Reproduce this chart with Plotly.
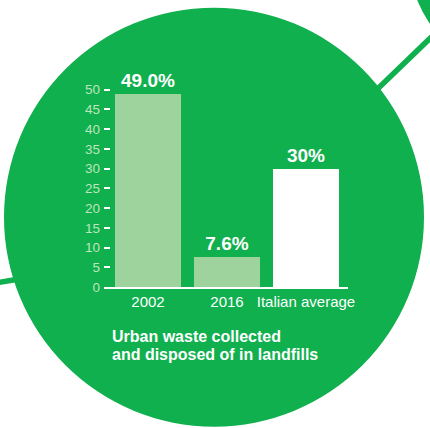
import plotly.graph_objects as go

# Share of urban waste sent to landfill (%)
categories = ["2002", "2016", "Italian average"]
values = [49.0, 7.6, 30]
value_labels = ["49.0%", "7.6%", "30%"]
y_ticks = [0, 5, 10, 15, 20, 25, 30, 35, 40, 45, 50]
caption_lines = ["Urban waste collected", "and disposed of in landfills"]

GREEN = "#0fb04d"
LIGHT = "#9fd39d"
TICK_TEXT = "#bde6bd"
FONT = "Liberation Sans, Arial, Helvetica, sans-serif"

W, H = 430, 428
ML, MR, MT, MB = 104, 82, 69.5, 141
PW, PH = W - ML - MR, H - MT - MB


def px(x):
    """Page pixel column -> paper x."""
    return (x - ML) / PW


def py(y):
    """Page pixel row -> paper y."""
    return (H - MB - y) / PH


bar_colors = [LIGHT, LIGHT, "#ffffff"]

fig = go.Figure(
    go.Bar(
        x=categories,
        y=values,
        text=value_labels,
        textposition="outside",
        textfont=dict(family=FONT, size=19, color="white", weight="bold"),
        marker=dict(color=bar_colors, line=dict(width=0)),
        width=0.835,
        cliponaxis=False,
        hoverinfo="skip",
    )
)

shapes = [
    # big green disc behind the chart
    dict(type="circle", xref="paper", yref="paper", layer="below",
         x0=px(4), x1=px(424), y0=py(427), y1=py(7),
         fillcolor=GREEN, line=dict(width=0)),
    # partial disc in the top-right corner
    dict(type="circle", xref="paper", yref="paper", layer="below",
         x0=px(410), x1=px(630), y0=py(70), y1=py(-150),
         fillcolor=GREEN, line=dict(width=0)),
    # connector lines
    dict(type="line", xref="paper", yref="paper", layer="below",
         x0=px(378), y0=py(88), x1=px(434), y1=py(34),
         line=dict(color=GREEN, width=5.5)),
    dict(type="line", xref="paper", yref="paper", layer="below",
         x0=px(-4), y0=py(283), x1=px(22), y1=py(278.5),
         line=dict(color=GREEN, width=5.5)),
]

# two-line caption under the bars, one annotation per line
caption_rows = [337, 355]
annotations = [
    dict(
        text=line,
        xref="paper", yref="paper",
        x=px(110), y=py(row),
        xanchor="left", yanchor="middle",
        align="left",
        showarrow=False,
        font=dict(family=FONT, size=16, color="white", weight="bold"),
    )
    for line, row in zip(caption_lines, caption_rows)
]

fig.update_layout(
    width=W,
    height=H,
    autosize=False,
    margin=dict(l=ML, r=MR, t=MT, b=MB, pad=0),
    paper_bgcolor="white",
    plot_bgcolor="rgba(0,0,0,0)",
    showlegend=False,
    bargap=0,
    shapes=shapes,
    font=dict(family=FONT),
    xaxis=dict(
        type="category",
        range=[-0.557, 2.532],
        showgrid=False,
        zeroline=False,
        showline=True,
        linecolor="white",
        linewidth=1.5,
        ticks="",
        tickfont=dict(family=FONT, size=15, color="white"),
        fixedrange=True,
    ),
    yaxis=dict(
        range=[0, 55],
        tickvals=y_ticks,
        showgrid=False,
        zeroline=False,
        showline=False,
        ticks="inside",
        ticklen=6,
        tickwidth=1.5,
        tickcolor="white",
        ticklabelstandoff=3,
        tickfont=dict(family=FONT, size=13.5, color=TICK_TEXT),
        fixedrange=True,
    ),
    annotations=annotations,
)

fig.write_html("out.html", config={"displayModeBar": False})
